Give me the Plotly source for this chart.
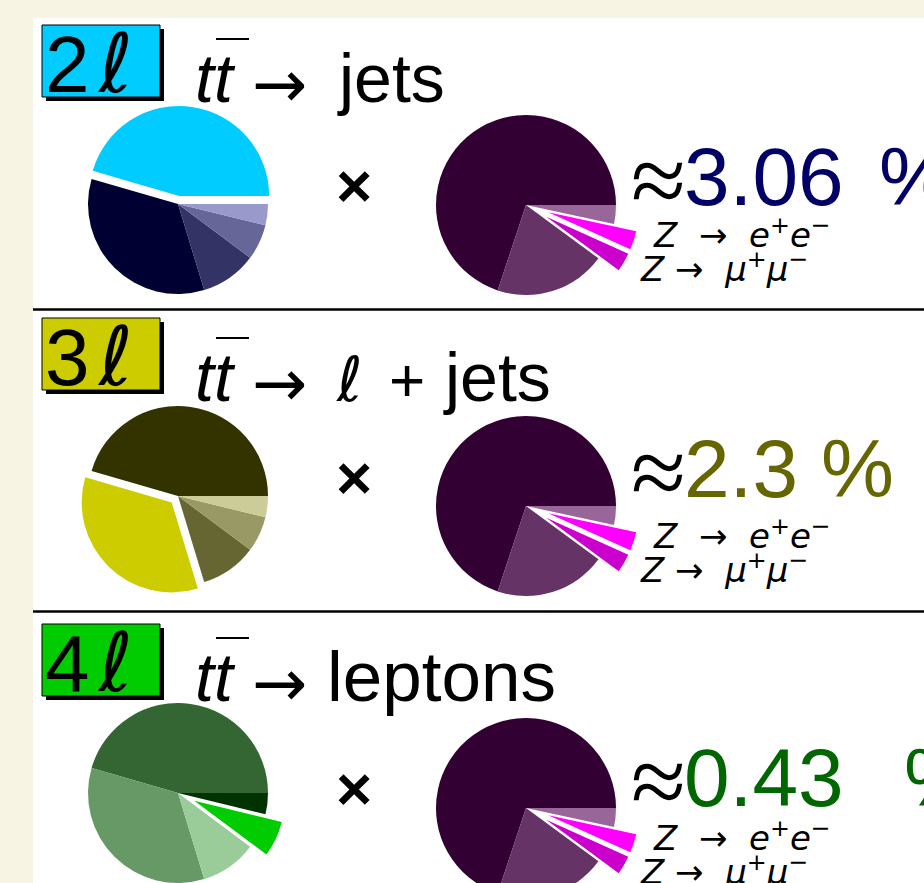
import plotly.graph_objects as go

# Canvas size in pixels (the lowest row runs past the visible bottom edge)
W, H = 924, 930

# Top-pair decay shares (%), counterclockwise from 3 o'clock:
# all-hadronic, lepton+jets, tau+jets, dilepton, other
ttbar_share = [45.5, 34.2, 10.1, 6.4, 3.8]
# Z boson decay shares (%): hadrons, invisible, mu+mu-, e+e-, tau+tau-
z_share = [69.9, 20.0, 3.37, 3.36, 3.37]
z_pull = [0, 0, 0.26, 0.26, 0]
z_colors = ["#330033", "#663366", "#CC00CC", "#FF00FF", "#996699"]

channel_tags = ["2", "3", "4"]
tag_colors = ["#00CCFF", "#CCCC00", "#00CC00"]
ttbar_colors = [
    ["#00CCFF", "#000033", "#333366", "#666699", "#9999CC"],
    ["#333300", "#CCCC00", "#666633", "#999966", "#CCCC99"],
    ["#336633", "#669966", "#99CC99", "#00CC00", "#003300"],
]
selected_slice = [0, 1, 3]
selected_pull = [0.09, 0.10, 0.20]
ttbar_modes = ["jets", "ℓ + jets", "leptons"]
product_labels = ["3.06", "2.3", "0.43"]
product_colors = ["#000066", "#666600", "#006600"]

# Layout of each row (pixels)
ROW_TOP = [25, 318, 624]
LEFT_C = [(178, 204), (178, 496), (178, 793)]
RIGHT_C = [(526, 205), (526, 506), (526, 808)]
TITLE_BASE = [102, 401, 701]
TIMES_Y = [185, 477, 788]
PCT_BASE = [205, 497, 806]
PCT_SIGN_X = [883, 825, 908]
R = 90

SANS = "Liberation Sans, Arial, sans-serif"
DEJAVU = "DejaVu Sans, sans-serif"
SERIF = "Liberation Serif, serif"


def fx(x):
    return x / W


def fy(y):
    return 1 - y / H


def pie_domain(cx, cy, r, pull):
    half = r * (1 + pull)
    return dict(x=[fx(cx - half), fx(cx + half)], y=[fy(cy + half), fy(cy - half)])


def start_rotation(values):
    # plotly places the first counterclockwise slice clockwise of `rotation`;
    # shift so that the first slice begins at 3 o'clock
    return 90 - 360 * values[0] / sum(values)


annotations = []


def text(x, base, s, size, color="black", family=SANS, desc=0.212):
    annotations.append(dict(
        x=fx(x), y=fy(base + desc * size), xref="paper", yref="paper",
        text=s, showarrow=False, xanchor="left", yanchor="bottom",
        font=dict(size=size, color=color, family=family),
        borderpad=0, borderwidth=0,
    ))


def text_mid(x, y, s, size, color="black", family=SANS):
    annotations.append(dict(
        x=fx(x), y=fy(y), xref="paper", yref="paper",
        text=s, showarrow=False, xanchor="center", yanchor="middle",
        font=dict(size=size, color=color, family=family),
        borderpad=0, borderwidth=0,
    ))


fig = go.Figure()
shapes = []

# white panel on the cream page
shapes.append(dict(type="rect", xref="paper", yref="paper", layer="below",
                   x0=fx(33), x1=1, y0=0, y1=fy(18),
                   fillcolor="white", line=dict(width=0)))
# row separators
for y in [309.5, 611.5]:
    shapes.append(dict(type="line", xref="paper", yref="paper",
                       x0=fx(33), x1=1, y0=fy(y), y1=fy(y),
                       line=dict(color="black", width=2.5)))

NB = "\u00a0"

for i in range(3):
    lcx, lcy = LEFT_C[i]
    rcx, rcy = RIGHT_C[i]
    top = ROW_TOP[i]

    pulls = [0] * len(ttbar_share)
    pulls[selected_slice[i]] = selected_pull[i]
    fig.add_trace(go.Pie(
        values=ttbar_share, sort=False, direction="counterclockwise",
        rotation=start_rotation(ttbar_share),
        marker=dict(colors=ttbar_colors[i], line=dict(width=0)),
        pull=pulls, textinfo="none", hoverinfo="skip", showlegend=False,
        domain=pie_domain(lcx, lcy, R, max(pulls)),
    ))
    fig.add_trace(go.Pie(
        values=z_share, sort=False, direction="counterclockwise",
        rotation=start_rotation(z_share),
        marker=dict(colors=z_colors, line=dict(width=0)),
        pull=z_pull, textinfo="none", hoverinfo="skip", showlegend=False,
        domain=pie_domain(rcx, rcy, R, max(z_pull)),
    ))

    # channel tag with drop shadow
    shapes.append(dict(type="rect", xref="paper", yref="paper",
                       x0=fx(46), x1=fx(164), y0=fy(top + 76), y1=fy(top + 4),
                       fillcolor="black", line=dict(width=0)))
    shapes.append(dict(type="rect", xref="paper", yref="paper",
                       x0=fx(42), x1=fx(160), y0=fy(top + 72), y1=fy(top),
                       fillcolor=tag_colors[i], line=dict(color="black", width=1)))
    text(45, top + 67, channel_tags[i], 80)
    text(97, top + 67, "<i>ℓ</i>", 82, family=DEJAVU, desc=0.236)

    # t tbar -> mode
    tb = TITLE_BASE[i]
    text(195, tb, "<i>tt</i>", 68)
    shapes.append(dict(type="line", xref="paper", yref="paper",
                       x0=fx(216), x1=fx(249), y0=fy(tb - 63), y1=fy(tb - 63),
                       line=dict(color="black", width=2)))
    text(252, tb + 5, "→", 66, family=DEJAVU, desc=0.236)
    mode = ttbar_modes[i]
    if mode.startswith("ℓ"):
        text(336, tb, "<i>ℓ</i>", 62, family=DEJAVU, desc=0.236)
        text(389, tb, "+", 62)
        text(443, tb, "jets", 68)
    elif mode == "jets":
        text(337, tb, "jets", 68)
    else:
        text(327, tb, mode, 71)

    text_mid(354, TIMES_Y[i], "<b>×</b>", 62)

    # product of the selected branching fractions
    pb = PCT_BASE[i]
    text(631, pb + 9, "≈", 100, family=SERIF, desc=0.216)
    text(684, pb, product_labels[i], 82, color=product_colors[i])
    text(PCT_SIGN_X[i] - 4, pb, "%", 82, color=product_colors[i])

    text(653, rcy + 42,
         f"<i>Z</i>{NB} →{NB} <i>e</i><sup>+</sup><i>e</i><sup>−</sup>",
         34, family=DEJAVU, desc=0.236)
    text(640, rcy + 76,
         f"<i>Z</i> →{NB} <i>μ</i><sup>+</sup><i>μ</i><sup>−</sup>",
         34, family=DEJAVU, desc=0.236)

fig.update_layout(
    width=W, height=H,
    margin=dict(l=0, r=0, t=0, b=0),
    paper_bgcolor="#F8F4E4",
    plot_bgcolor="#F8F4E4",
    shapes=shapes,
    annotations=annotations,
)

fig.write_html("out.html")
